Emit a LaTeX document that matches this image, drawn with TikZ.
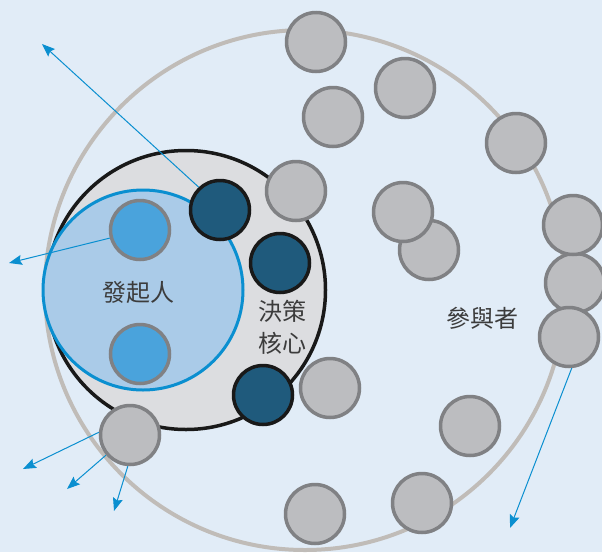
\documentclass[tikz,border=0pt]{standalone}
\usepackage{fontspec}
\newfontfamily\cjk{Noto Sans CJK TC}
\usetikzlibrary{arrows.meta}
\definecolor{bg}{RGB}{225,236,247}
\definecolor{ringc}{RGB}{192,188,184}
\definecolor{corefill}{RGB}{220,221,224}
\definecolor{initfill}{RGB}{170,203,232}
\definecolor{initline}{RGB}{10,143,208}
\definecolor{lblue}{RGB}{74,163,220}
\definecolor{dblue}{RGB}{31,90,124}
\definecolor{gfill}{RGB}{188,189,192}
\definecolor{gline}{RGB}{128,129,132}
\definecolor{arr}{RGB}{10,143,208}
\definecolor{txt}{RGB}{60,60,60}
\tikzset{
  member/.style={circle,draw=gline,fill=gfill,line width=3.5pt,minimum size=59pt,inner sep=0pt},
  founder/.style={circle,draw=gline,fill=lblue,line width=3.5pt,minimum size=59pt,inner sep=0pt},
  coremember/.style={circle,draw=black!90,fill=dblue,line width=3.5pt,minimum size=59pt,inner sep=0pt},
  outarrow/.style={draw=arr,line width=1pt,-{Stealth[length=13pt,width=10pt,inset=2pt]}},
  lbl/.style={text=txt,font=\cjk\fontsize{24}{32}\selectfont,align=center,inner sep=0pt}
}
\begin{document}
\begin{tikzpicture}[x=1pt,y=-1pt]
\fill[bg] (0,0) rectangle (602,552);
\useasboundingbox (0,0) rectangle (602,552);
% big ring
\node[circle,draw=ringc,line width=4pt,minimum size=520pt,inner sep=0pt] (ring) at (305,290) {};
% decision core
\node[circle,draw=black!90,fill=corefill,line width=3.5pt,minimum size=279pt,inner sep=0pt] (core) at (186,290) {};
% initiator
\node[circle,draw=initline,fill=initfill,line width=3pt,minimum size=200pt,inner sep=0pt] (init) at (143,290) {};
\node[founder] (f1) at (140,230) {};
\node[founder] (f2) at (140,354) {};
% core members
\node[coremember] (d1) at (220,210) {};
\node[coremember] (d2) at (280,263) {};
\node[coremember] (d3) at (263,395) {};
% participants
\node[member] (p1) at (316,42) {};
\node[member] (p2) at (405,88) {};
\node[member] (p3) at (333,117) {};
\node[member] (p4) at (516,143) {};
\node[member] (p5) at (296,191) {};
\node[member] (p7) at (429,250) {};
\node[member] (p6) at (403,212) {};
\node[member] (p9) at (575,283) {};
\node[member] (p8) at (573,225) {};
\node[member] (p10) at (569,337) {};
\node[member] (p11) at (330,388) {};
\node[member] (p12) at (470,426) {};
\node[member] (p13) at (422,503) {};
\node[member] (p14) at (315,514) {};
\node[member] (p15) at (130,435) {};
% labels
\node[lbl] (tinit) at (138,292) {發起人};
\node[lbl] (tcore) at (282,327) {決策\\核心};
\node[lbl] (tpart) at (482,318) {參與者};
% arrow ends
\coordinate (e1) at (42,44);
\coordinate (e2) at (9,263);
\coordinate (e3) at (23,469);
\coordinate (e4) at (67,489);
\coordinate (e5) at (114,511);
\coordinate (e6) at (510,528);
\draw[outarrow] (d1.133) -- (e1);
\draw[outarrow] (f1.195) -- (e2);
\draw[outarrow] (p15.175) -- (e3);
\draw[outarrow] (p15.220) -- (e4);
\draw[outarrow] (p15.266) -- (e5);
\draw[outarrow] (p10.275) -- (e6);
\end{tikzpicture}
\end{document}
